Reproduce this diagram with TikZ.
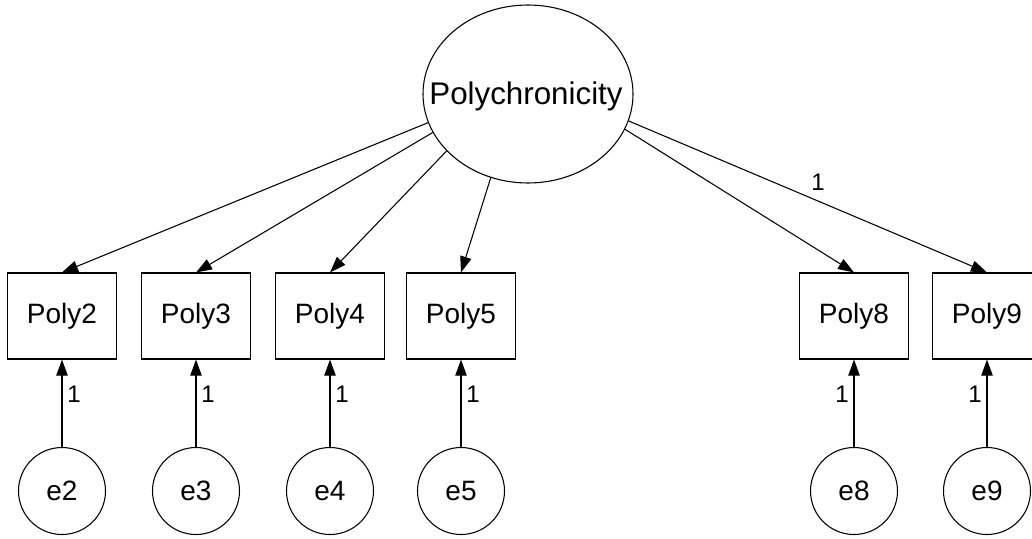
\documentclass[tikz,border=0pt]{standalone}
\usepackage{fontspec}
\setmainfont{Liberation Sans}
\usetikzlibrary{arrows.meta,shapes.geometric}
\begin{document}
\begin{tikzpicture}[x=0.75pt,y=-0.75pt,
  every path/.style={line width=0.8pt},
  obsbox/.style={draw,rectangle,inner sep=0pt,minimum width=81.75pt,minimum height=64.5pt,font=\fontsize{21}{24}\selectfont},
  errcirc/.style={draw,circle,inner sep=0pt,minimum size=65.25pt,font=\fontsize{21}{24}\selectfont},
  latent/.style={draw,ellipse,inner sep=0pt,minimum width=157.5pt,minimum height=133.5pt},
  arr/.style={-{Triangle[length=12pt,width=8.5pt]}},
  wlab/.style={font=\fontsize{18}{20}\selectfont,inner sep=0pt}]
\useasboundingbox (0,0) rectangle (1032,539);
% latent variable
\node[latent] (P) at (528,94) {};
\node[font=\fontsize{23.5}{26}\selectfont,inner sep=0pt] (Ptxt) at (526,96) {Polychronicity};
% observed variables
\node[obsbox] (b2) at (62,316) {Poly2};
\node[obsbox] (b3) at (196,316) {Poly3};
\node[obsbox] (b4) at (330,316) {Poly4};
\node[obsbox] (b5) at (461,316) {Poly5};
\node[obsbox] (b8) at (854,316) {Poly8};
\node[obsbox] (b9) at (987,316) {Poly9};
% error terms
\node[errcirc] (e2) at (62,491) {e2};
\node[errcirc] (e3) at (196,491) {e3};
\node[errcirc] (e4) at (330,491) {e4};
\node[errcirc] (e5) at (461,491) {e5};
\node[errcirc] (e8) at (854,491) {e8};
\node[errcirc] (e9) at (987,491) {e9};
% loadings
\draw[arr] (P.196) -- (b2.north);
\draw[arr] (P.202) -- (b3.north);
\draw[arr] (P.215) -- (b4.north);
\draw[arr] (P.246) -- (b5.north);
\draw[arr] (P.340) -- (b8.north);
\draw[arr] (P.345) -- (b9.north);
\node[wlab] (l9) at (818,182) {1};
% error paths
\draw[arr] (e2) -- (b2);
\draw[arr] (e3) -- (b3);
\draw[arr] (e4) -- (b4);
\draw[arr] (e5) -- (b5);
\draw[arr] (e8) -- (b8);
\draw[arr] (e9) -- (b9);
\node[wlab] (le2) at (74,394) {1};
\node[wlab] (le3) at (208,394) {1};
\node[wlab] (le4) at (342,394) {1};
\node[wlab] (le5) at (473,394) {1};
\node[wlab] (le8) at (842,394) {1};
\node[wlab] (le9) at (975,394) {1};
\end{tikzpicture}
\end{document}
